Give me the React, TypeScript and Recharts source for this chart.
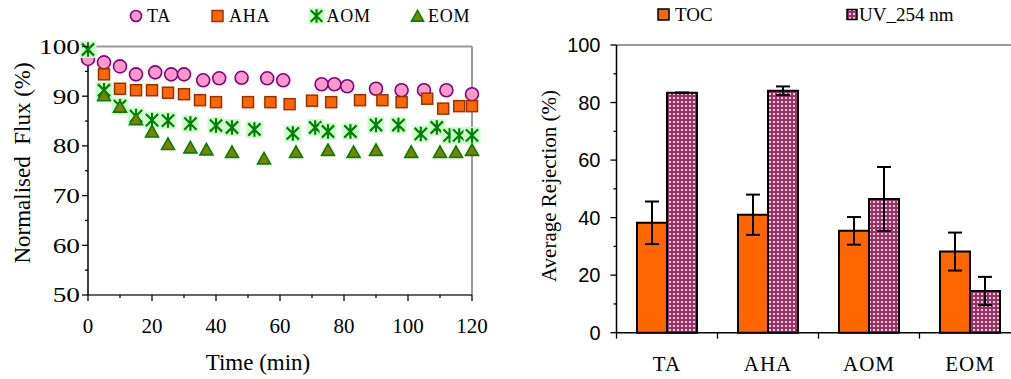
import React from 'react';
import { ScatterChart, Scatter, XAxis, YAxis, ReferenceLine, BarChart, Bar, ErrorBar } from 'recharts';

const SERIF = '"Liberation Serif", "Times New Roman", serif';
const SANS = '"Liberation Sans", Arial, sans-serif';

// ---------- Left chart data ----------
const seriesNames = ['TA', 'AHA', 'AOM', 'EOM'];

const taTime = [0, 5, 10, 15, 21, 26, 30, 36, 41, 48, 56, 61, 73, 77, 81, 90, 98, 105, 112, 120];
const taFlux = [97.5, 96.8, 96.0, 94.4, 94.8, 94.4, 94.4, 93.2, 93.6, 93.7, 93.6, 93.2, 92.4, 92.4, 92.0, 91.5, 91.2, 91.2, 91.2, 90.4];

const ahaTime = [5, 10, 15, 20, 25, 30, 35, 40, 50, 57, 63, 70, 76, 85, 92, 98, 106, 111, 116, 120];
const ahaFlux = [94.4, 91.5, 91.2, 91.2, 90.7, 90.4, 89.2, 88.8, 88.8, 88.8, 88.4, 89.1, 88.8, 89.2, 89.2, 88.8, 89.5, 87.5, 88.0, 88.0];

const aomTime = [0, 5, 10, 15, 20, 25, 32, 40, 45, 52, 64, 71, 75, 82, 90, 97, 104, 109, 113, 116, 120];
const aomFlux = [99.4, 91.2, 88.0, 86.0, 85.2, 85.1, 84.5, 84.1, 83.7, 83.3, 82.5, 83.7, 82.9, 82.9, 84.2, 84.2, 82.4, 83.7, 82.1, 82.1, 82.1];

const eomTime = [5, 10, 15, 20, 25, 32, 37, 45, 55, 65, 75, 83, 90, 101, 110, 115, 120];
const eomFlux = [90.2, 87.9, 85.4, 82.9, 80.4, 79.7, 79.3, 78.8, 77.5, 78.8, 79.2, 78.8, 79.2, 78.8, 78.8, 78.8, 79.2];

const fluxTicks = [50, 55, 60, 65, 70, 75, 80, 85, 90, 95, 100];
const timeTicks = [0, 10, 20, 30, 40, 50, 60, 70, 80, 90, 100, 110, 120];

// ---------- Right chart data ----------
const categories = ['TA', 'AHA', 'AOM', 'EOM'];
const tocValues = [38.2, 41.0, 35.4, 28.2];
const tocErrors = [7.4, 7.0, 4.8, 6.6];
const uvValues = [83.4, 84.1, 46.5, 14.5];
const uvErrors = [0.1, 1.5, 11.1, 4.9];
const rejectionTicks = [0, 10, 20, 30, 40, 50, 60, 70, 80, 90, 100];
const barSeriesNames = ['TOC', 'UV_254 nm'];

const zip = (xs: number[], ys: number[]) => xs.map((t, i) => ({ t, v: ys[i] }));
const taData = zip(taTime, taFlux);
const ahaData = zip(ahaTime, ahaFlux);
const aomData = zip(aomTime, aomFlux);
const eomData = zip(eomTime, eomFlux);

const barData = categories.map((name, i) => ({
  name,
  toc: tocValues[i],
  tocErr: tocErrors[i],
  uv: uvValues[i],
  uvErr: uvErrors[i],
}));

// ---------- Marker shapes ----------
const CircleMark = ({ cx, cy, r = 6.5 }: any) => (
  <circle cx={cx} cy={cy} r={r} fill="#ff99cc" stroke="#800080" strokeWidth={1.6} />
);
const SquareMark = ({ cx, cy, s = 11 }: any) => (
  <rect x={cx - s / 2} y={cy - s / 2} width={s} height={s} fill="#ff6600" stroke="#993300" strokeWidth={1.5} />
);
const AsteriskMark = ({ cx, cy, s = 17 }: any) => {
  const h = s / 2;
  const a = h * 0.85;
  const d = h * 0.72;
  return (
    <g>
      <rect x={cx - h} y={cy - h} width={s} height={s} fill="#ccffcc" />
      <path
        d={`M${cx},${cy - a}L${cx},${cy + a}M${cx - d},${cy - d}L${cx + d},${cy + d}M${cx - d},${cy + d}L${cx + d},${cy - d}`}
        stroke="#008000"
        strokeWidth={2.2}
        fill="none"
      />
    </g>
  );
};
const TriangleMark = ({ cx, cy, w = 13 }: any) => {
  const h = w * 0.85;
  return (
    <polygon
      points={`${cx},${cy - h / 2 - 0.5} ${cx + w / 2},${cy + h / 2} ${cx - w / 2},${cy + h / 2}`}
      fill="#808000"
      stroke="#008000"
      strokeWidth={1.6}
      strokeLinejoin="miter"
    />
  );
};

// ---------- Custom ticks ----------
const FluxTick = (props: any) => {
  const { x, y, payload } = props;
  const v = payload.value;
  const major = v % 10 === 0;
  return (
    <g>
      <line x1={x - (major ? 6 : 3)} x2={x} y1={y} y2={y} stroke="#000" strokeWidth={1.3} />
      {major && (
        <text
          transform={`translate(${x - 8},${y}) scale(1.3,1)`}
          x={0}
          y={0}
          textAnchor="end"
          dominantBaseline="central"
          fontFamily={SERIF}
          fontSize={21}
          fill="#000"
        >
          {v}
        </text>
      )}
    </g>
  );
};

const TimeTick = (props: any) => {
  const { x, y, payload } = props;
  const v = payload.value;
  const major = v % 20 === 0;
  return (
    <g>
      <line x1={x} x2={x} y1={y} y2={y + (major ? 6 : 3)} stroke="#000" strokeWidth={1.3} />
      {major && (
        <text x={x} y={y + 38} textAnchor="middle" fontFamily={SERIF} fontSize={21} fill="#000">
          {v}
        </text>
      )}
    </g>
  );
};

const RejTick = (props: any) => {
  const { x, y, payload } = props;
  const v = payload.value;
  const major = v % 20 === 0;
  return (
    <g>
      <line x1={x - (major ? 6 : 3)} x2={x} y1={y} y2={y} stroke="#000" strokeWidth={1.3} />
      {major && (
        <text x={x - 16} y={y} textAnchor="end" dominantBaseline="central" fontFamily={SANS} fontSize={20} fill="#000">
          {v}
        </text>
      )}
    </g>
  );
};

const BAND = 101;
const CatTick = (props: any) => {
  const { x, y, payload, index } = props;
  return (
    <g>
      <line x1={x - BAND / 2} x2={x - BAND / 2} y1={y} y2={y + 6} stroke="#000" strokeWidth={1.3} />
      {index === categories.length - 1 && (
        <line x1={x + BAND / 2} x2={x + BAND / 2} y1={y} y2={y + 6} stroke="#000" strokeWidth={1.3} />
      )}
      <text x={x} y={y + 38} textAnchor="middle" fontFamily={SERIF} fontSize={21} letterSpacing={1} fill="#000">
        {payload.value}
      </text>
    </g>
  );
};

const markers = [CircleMark, SquareMark, AsteriskMark, TriangleMark];
const leftLegendPos = [
  { mx: 136, tx: 147 },
  { mx: 217.5, tx: 229 },
  { mx: 316.5, tx: 326.5 },
  { mx: 417.5, tx: 428 },
];
const legendMarkerProps = [{ r: 5.5 }, { s: 11 }, { s: 16 }, { w: 12 }];

export default function App() {
  return (
    <div
      style={{
        position: 'absolute',
        left: 0,
        top: 0,
        width: 1011,
        height: 379,
        overflow: 'hidden',
        background: '#fff',
      }}
    >
      <div style={{ position: 'absolute', left: 0, top: 0 }}>
        <ScatterChart width={520} height={379} margin={{ top: 46.5, right: 48, bottom: 0, left: 0 }}>
          <XAxis
            type="number"
            dataKey="t"
            domain={[0, 120]}
            ticks={timeTicks}
            interval={0}
            height={84}
            tickSize={0}
            tickMargin={0}
            tickLine={false}
            axisLine={{ stroke: '#333', strokeWidth: 1.5 }}
            tick={(p: any) => <TimeTick {...p} />}
          />
          <YAxis
            type="number"
            dataKey="v"
            domain={[50, 100]}
            ticks={fluxTicks}
            interval={0}
            width={88}
            tickSize={0}
            tickMargin={0}
            tickLine={false}
            axisLine={{ stroke: '#000', strokeWidth: 1.5 }}
            tick={(p: any) => <FluxTick {...p} />}
          />
          <ReferenceLine y={100} stroke="#9a9a9a" strokeWidth={2} />
          <ReferenceLine x={120} stroke="#9a9a9a" strokeWidth={2} />
          <Scatter name={seriesNames[0]} data={taData} shape={(p: any) => <CircleMark cx={p.cx} cy={p.cy} />} isAnimationActive={false} />
          <Scatter name={seriesNames[1]} data={ahaData} shape={(p: any) => <SquareMark cx={p.cx} cy={p.cy} />} isAnimationActive={false} />
          <Scatter name={seriesNames[2]} data={aomData} shape={(p: any) => <AsteriskMark cx={p.cx} cy={p.cy} />} isAnimationActive={false} />
          <Scatter name={seriesNames[3]} data={eomData} shape={(p: any) => <TriangleMark cx={p.cx} cy={p.cy} />} isAnimationActive={false} />
        </ScatterChart>
      </div>

      <div style={{ position: 'absolute', left: 520, top: 0 }}>
        <BarChart
          width={520}
          height={379}
          data={barData}
          margin={{ top: 45, right: 19.5, bottom: 0, left: 0 }}
          barCategoryGap={20.5}
          barGap={0}
        >
          <defs>
            <pattern id="uvDots" patternUnits="userSpaceOnUse" width={4} height={4}>
              <rect x={0} y={0} width={4} height={4} fill="#993366" />
              <rect x={1} y={1} width={2} height={2} fill="#f0cce2" />
            </pattern>
          </defs>
          <XAxis
            dataKey="name"
            height={46.3}
            tickSize={0}
            tickMargin={0}
            tickLine={false}
            interval={0}
            axisLine={{ stroke: '#000', strokeWidth: 1.5 }}
            tick={(p: any) => <CatTick {...p} />}
          />
          <YAxis
            type="number"
            domain={[0, 100]}
            ticks={rejectionTicks}
            interval={0}
            width={96.5}
            tickSize={0}
            tickMargin={0}
            tickLine={false}
            axisLine={{ stroke: '#000', strokeWidth: 1.5 }}
            tick={(p: any) => <RejTick {...p} />}
          />
          <ReferenceLine y={100} stroke="#9a9a9a" strokeWidth={2} />
          <Bar dataKey="toc" name={barSeriesNames[0]} fill="#ff6600" stroke="#000" strokeWidth={2} isAnimationActive={false}>
            <ErrorBar dataKey="tocErr" direction="y" width={7} stroke="#000" strokeWidth={2} />
          </Bar>
          <Bar dataKey="uv" name={barSeriesNames[1]} fill="url(#uvDots)" stroke="#000" strokeWidth={2} isAnimationActive={false}>
            <ErrorBar dataKey="uvErr" direction="y" width={7} stroke="#000" strokeWidth={2} />
          </Bar>
        </BarChart>
      </div>

      <svg
        width={1011}
        height={379}
        style={{ position: 'absolute', left: 0, top: 0, pointerEvents: 'none' }}
      >
        {seriesNames.map((n, i) => {
          const M = markers[i];
          const pos = leftLegendPos[i];
          return (
            <g key={n}>
              <M cx={pos.mx} cy={16} {...legendMarkerProps[i]} />
              <text x={pos.tx} y={21.5} fontFamily={SERIF} fontSize={18} letterSpacing={0.8} fill="#000">
                {n}
              </text>
            </g>
          );
        })}
        <rect x={658} y={9} width={11} height={11} fill="#ff6600" stroke="#000" strokeWidth={1.5} />
        <text x={675} y={21} fontFamily={SERIF} fontSize={19} fill="#000">
          {barSeriesNames[0]}
        </text>
        <rect x={847} y={9.5} width={10} height={10} fill="url(#uvDots)" stroke="#000" strokeWidth={1.5} />
        <text x={859} y={21} fontFamily={SERIF} fontSize={19} fill="#000">
          {barSeriesNames[1]}
        </text>

        <text
          transform="translate(22,163) rotate(-90)"
          textAnchor="middle"
          dominantBaseline="central"
          fontFamily={SERIF}
          fontSize={23}
          fill="#000"
          style={{ whiteSpace: 'pre' }}
        >
          {'Normalised  Flux (%)'}
        </text>
        <text x={258} y={370} textAnchor="middle" fontFamily={SERIF} fontSize={23} fill="#000">
          Time (min)
        </text>
        <text
          transform="translate(549,186) rotate(-90)"
          textAnchor="middle"
          dominantBaseline="central"
          fontFamily={SERIF}
          fontSize={21}
          fill="#000"
        >
          Average Rejection (%)
        </text>
      </svg>
    </div>
  );
}
